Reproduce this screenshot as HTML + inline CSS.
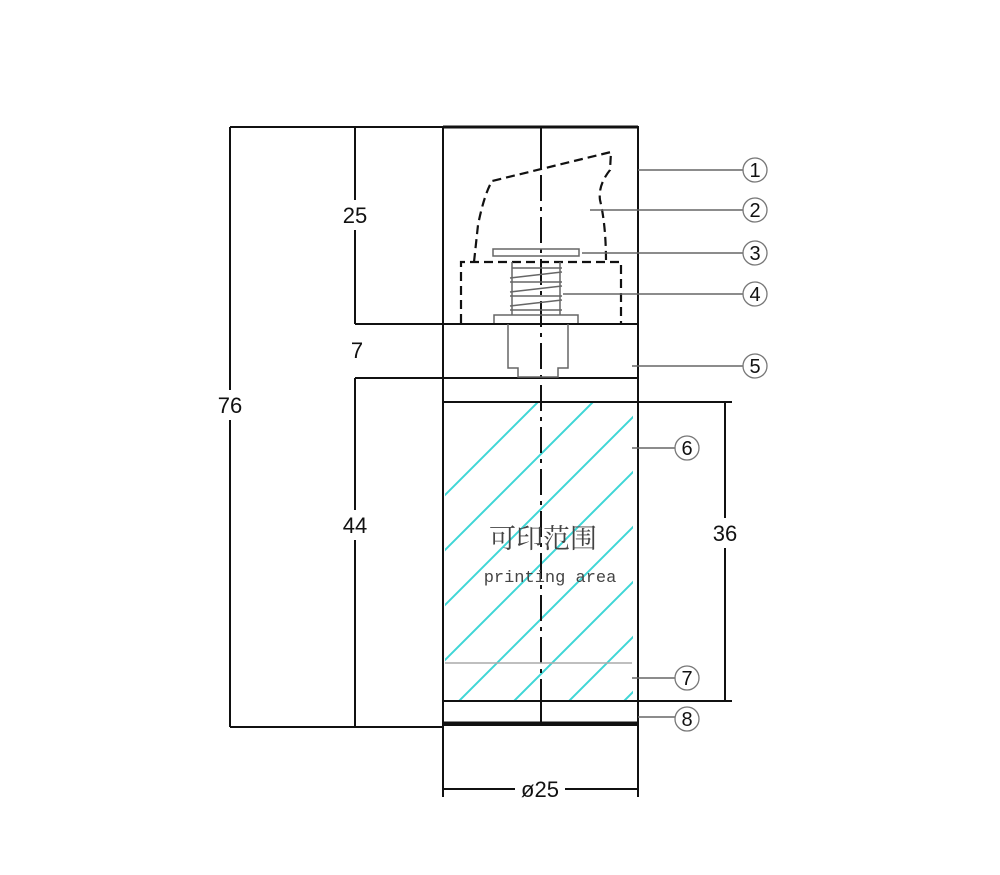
<!DOCTYPE html>
<html><head><meta charset="utf-8"><style>body{margin:0;background:#fff}svg{display:block}</style></head>
<body>
<svg width="1000" height="875" viewBox="0 0 1000 875" xmlns="http://www.w3.org/2000/svg">
<defs>
<clipPath id="c"><rect x="445" y="403" width="188" height="297"/></clipPath>
</defs>
<g clip-path="url(#c)" stroke="#3fd6d6" stroke-width="2">
<path d="M300 750 L700 350 M355 750 L755 350 M410 750 L810 350 M465 750 L865 350 M520 750 L920 350 M575 750 L975 350 M630 750 L1030 350 M245 750 L645 350 M190 750 L590 350"/>
</g>
<g fill="none" stroke="#111" stroke-width="2">
<rect x="443" y="127" width="195" height="598"/>
<line x1="443" y1="127" x2="638" y2="127" stroke-width="3"/>
<line x1="443" y1="324" x2="638" y2="324"/>
<line x1="443" y1="378" x2="638" y2="378"/>
<line x1="443" y1="402" x2="638" y2="402"/>
<line x1="443" y1="701" x2="638" y2="701"/>
<line x1="443" y1="723" x2="638" y2="723" stroke-width="3"/>
<line x1="541" y1="127" x2="541" y2="170"/>
<line x1="541" y1="700" x2="541" y2="723"/>
<path d="M541 175 V700" stroke-dasharray="26 6 4 6"/>
<line x1="230" y1="127" x2="443" y2="127"/>
<line x1="230" y1="727" x2="443" y2="727"/>
<line x1="230" y1="127" x2="230" y2="390"/><line x1="230" y1="420" x2="230" y2="727"/>
<line x1="355" y1="324" x2="443" y2="324"/>
<line x1="355" y1="378" x2="443" y2="378"/>
<line x1="355" y1="127" x2="355" y2="200"/><line x1="355" y1="230" x2="355" y2="324"/>
<line x1="355" y1="378" x2="355" y2="510"/><line x1="355" y1="540" x2="355" y2="727"/>
<line x1="638" y1="402" x2="732" y2="402"/>
<line x1="638" y1="701" x2="732" y2="701"/>
<line x1="725" y1="402" x2="725" y2="518"/><line x1="725" y1="548" x2="725" y2="701"/>
<line x1="443" y1="725" x2="443" y2="797"/>
<line x1="638" y1="725" x2="638" y2="797"/>
<line x1="443" y1="789" x2="515" y2="789"/><line x1="565" y1="789" x2="638" y2="789"/>
</g>
<g fill="none" stroke="#111" stroke-width="2.2" stroke-dasharray="9 5">
<path d="M474 262 L478 225 Q484 195 492 181 L611 152 L610 170 Q598 185 600 200 Q606 225 606 262"/>
<path d="M461 323 V262 H621 V323"/>
</g>
<g fill="none" stroke="#666" stroke-width="1.5">
<rect x="493" y="249" width="86" height="7"/>
<path d="M512 262 V315 M560 262 V315 M512 268 H562 M510 278 L562 272 M510 282 H562 M510 292 L562 286 M510 296 H562 M510 306 L562 300 M510 310 H562"/>
<path d="M494 323 V315 H578 V323"/>
<path d="M508 324 V368 H518 V377 H558 V368 H568 V324"/>
<line x1="445" y1="663" x2="632" y2="663" stroke="#aaa"/>
<line x1="638" y1="170" x2="743" y2="170"/>
<line x1="590" y1="210" x2="743" y2="210"/>
<line x1="582" y1="253" x2="743" y2="253"/>
<line x1="563" y1="294" x2="743" y2="294"/>
<line x1="632" y1="366" x2="743" y2="366"/>
<line x1="632" y1="448" x2="675" y2="448"/>
<line x1="632" y1="678" x2="675" y2="678"/>
<line x1="638" y1="717" x2="675" y2="717"/>
</g>
<g fill="#fff" stroke="#777" stroke-width="1.3">
<circle cx="755" cy="170" r="12"/><circle cx="755" cy="210" r="12"/><circle cx="755" cy="253" r="12"/>
<circle cx="755" cy="294" r="12"/><circle cx="755" cy="366" r="12"/>
<circle cx="687" cy="448" r="12"/><circle cx="687" cy="678" r="12"/><circle cx="687" cy="719" r="12"/>
</g>
<g font-family="Liberation Sans, sans-serif" font-size="20" fill="#111" text-anchor="middle">
<text x="755" y="177">1</text><text x="755" y="217">2</text><text x="755" y="260">3</text>
<text x="755" y="301">4</text><text x="755" y="373">5</text>
<text x="687" y="455">6</text><text x="687" y="685">7</text><text x="687" y="726">8</text>
<text x="230" y="413" font-size="22">76</text>
<text x="355" y="223" font-size="22">25</text>
<text x="357" y="358" font-size="22">7</text>
<text x="355" y="533" font-size="22">44</text>
<text x="725" y="541" font-size="22">36</text>
<text x="540" y="797" font-size="22">ø25</text>
</g>
<text x="543" y="548" font-family="Liberation Serif, 'Noto Serif CJK SC', serif" font-size="27" fill="#444" text-anchor="middle">可印范围</text>
<text x="550" y="582" font-family="Liberation Mono, monospace" font-size="17" fill="#444" text-anchor="middle">printing area</text>
</svg>
</body></html>
